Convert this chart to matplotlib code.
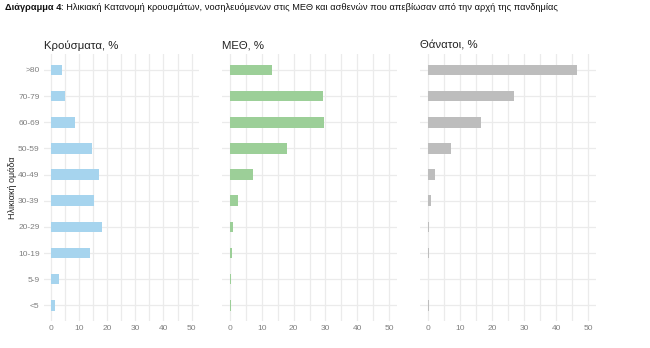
import matplotlib.pyplot as plt
from matplotlib.ticker import MultipleLocator

plt.rcParams['font.family'] = ['Liberation Sans', 'DejaVu Sans']

age_groups = ['<5', '5-9', '10-19', '20-29', '30-39', '40-49', '50-59', '60-69', '70-79', '>80']
cases = [1.6, 2.9, 13.8, 18.2, 15.5, 17.2, 14.5, 8.7, 5.1, 4.0]
icu = [0.3, 0.3, 0.6, 1.1, 2.6, 7.4, 18.1, 29.5, 29.2, 13.3]
deaths = [0.25, 0.0, 0.25, 0.3, 0.8, 2.3, 7.3, 16.6, 27.0, 46.7]

panel_titles = ['Κρούσματα, %', 'ΜΕΘ, %', 'Θάνατοι, %']
panel_values = [cases, icu, deaths]
panel_colors = ['#a6d4ee', '#9ccf98', '#bdbdbd']
x_ticks = [0, 10, 20, 30, 40, 50]

W, H = 650, 348
fig = plt.figure(figsize=(W / 100, H / 100), dpi=100)

# panel boxes in pixels: (left, right)
boxes = [(43.7, 198.7), (221.7, 397.3), (420, 596)]
top_px, bottom_px = 54.3, 321

grid_c = '#ebebeb'
tick_c = '#7f7f7f'

for i, (title, vals, col) in enumerate(zip(panel_titles, panel_values, panel_colors)):
    l, r = boxes[i]
    ax = fig.add_axes([l / W, 1 - bottom_px / H, (r - l) / W, (bottom_px - top_px) / H])
    ypos = list(range(len(age_groups)))
    ax.barh(ypos, vals, height=0.4, color=col, zorder=3)
    ax.set_xlim(-2.5, 52.5)
    ax.set_ylim(-0.6, len(age_groups) - 0.4)
    ax.xaxis.set_minor_locator(MultipleLocator(5))
    ax.set_xticks(x_ticks)
    ax.set_yticks(ypos)
    if i == 0:
        ax.set_yticklabels(age_groups)
        ax.set_ylabel('Ηλικιακή ομάδα', fontsize=6.5, color='#222222', labelpad=1)
    else:
        ax.set_yticklabels([])
    ax.grid(True, which='both', axis='x', color=grid_c, linewidth=0.9, zorder=0)
    ax.grid(True, which='major', axis='y', color=grid_c, linewidth=0.9, zorder=0)
    for s in ax.spines.values():
        s.set_visible(False)
    ax.tick_params(which='both', length=0, labelsize=6, labelcolor=tick_c, pad=3)
    ax.set_title(title, loc='left', fontsize=8.2, color='#222222', pad=4, x=0.0)

# heading: bold label followed by the normal-weight description
head = fig.text(5 / W, 1 - 8 / H, 'Διάγραμμα 4', fontsize=6.7, fontweight='bold',
                va='center', color='#111111')
fig.canvas.draw()
bb = head.get_window_extent(renderer=fig.canvas.get_renderer())
fig.text(bb.x1 / W, 1 - 8 / H,
         ': Ηλικιακή Κατανομή κρουσμάτων, νοσηλευόμενων στις ΜΕΘ και ασθενών που απεβίωσαν από την αρχή της πανδημίας',
         fontsize=6.7, va='center', color='#111111')

fig.savefig('out.png', dpi=100, facecolor='white')
